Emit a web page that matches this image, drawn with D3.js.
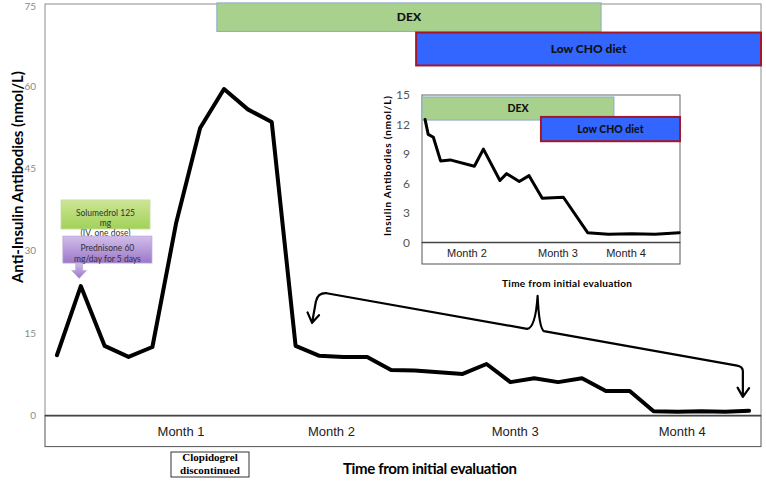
<!DOCTYPE html>
<html>
<head>
<meta charset="utf-8">
<script src="https://cdn.jsdelivr.net/npm/d3@7"></script>
<style>
  body { margin: 0; background: #fff; }
  svg { display: block; font-family: Lato, "Open Sans", sans-serif; }
</style>
</head>
<body>
<svg id="chart" width="766" height="481"></svg>
<script>
// main series, one value per visit
const visits = d3.range(30);
const antibodies = [11.0, 23.6, 12.7, 10.7, 12.5, 35.2, 52.4, 59.5, 55.8, 53.5,
                    12.7, 10.9, 10.7, 10.7, 8.3, 8.2, 7.9, 7.6, 9.4, 6.1,
                    6.8, 6.1, 6.8, 4.5, 4.5, 0.8, 0.7, 0.8, 0.7, 0.9];
const yTicks = [0, 15, 30, 45, 60, 75];
const months = ['Month 1', 'Month 2', 'Month 3', 'Month 4'];
const monthAt = [5.2, 11.5, 19.2, 26.2];

// inset (zoom on the low range)
const insetDays = [1.2, 2.4, 4.4, 7.2, 10.9, 20.3, 23.8, 30.2, 32.8, 37.7,
                   41.5, 46.6, 54.8, 64.2, 72.2, 81.3, 90.3, 99.7];
const insetValues = [12.5, 11.0, 10.7, 8.3, 8.4, 7.75, 9.5, 6.3, 7.0, 6.2,
                     6.8, 4.5, 4.6, 1.0, 0.85, 0.9, 0.85, 1.0];
const insetTicks = [0, 3, 6, 9, 12, 15];
const insetMonths = ['Month 2', 'Month 3', 'Month 4'];
const insetMonthAt = [17.4, 52.7, 79.1];

// treatment bars: [from, to, top value, bottom value]
const dexMain = [6.7, 22.8, 75.2, 70.0];
const choMain = [15.05, 29.5, 69.8, 63.8];
const dexInset = [0, 74.4, 14.8, 12.45];
const choInset = [46.1, 100, 12.77, 10.3];
const solumedrol = [0.17, 3.9, 39.3, 34.0];
const prednisone = [0.25, 3.98, 32.7, 27.8];

const svg = d3.select('#chart');
const defs = svg.append('defs');

function grad (id, c0, c1) {
    const g = defs.append('linearGradient').attr('id', id)
        .attr('x1', 0).attr('y1', 0).attr('x2', 0).attr('y2', 1);
    g.append('stop').attr('offset', 0).attr('stop-color', c0);
    g.append('stop').attr('offset', 1).attr('stop-color', c1);
}
grad('gGreen', '#cde596', '#a2d157');
grad('gPurple', '#d2bdea', '#9c78c9');

const x = d3.scaleLinear().domain([-0.5, 29.5]).range([45, 761]);
const y = d3.scaleLinear().domain([0, 75]).range([415.6, 4]);

// frame + category strip
svg.append('rect')
    .attr('x', x(-0.5)).attr('y', y(75))
    .attr('width', x(29.5) - x(-0.5)).attr('height', y(0) - y(75))
    .attr('fill', 'none').attr('stroke', '#8c8c8c');
svg.append('rect')
    .attr('x', x(-0.5)).attr('y', y(0))
    .attr('width', x(29.5) - x(-0.5)).attr('height', 31)
    .attr('fill', '#fff').attr('stroke', '#555');
svg.append('line')
    .attr('x1', x(-0.5)).attr('x2', x(29.5)).attr('y1', y(0)).attr('y2', y(0))
    .attr('stroke', '#444').attr('stroke-width', 1.6);

svg.append('g').selectAll('text').data(yTicks).join('text')
    .attr('x', 36).attr('y', d => Math.max(y(d), 6)).attr('dy', '0.35em')
    .attr('text-anchor', 'end').attr('font-size', 10).attr('fill', '#8a8a8a')
    .text(d => d);

svg.append('g').selectAll('text').data(months).join('text')
    .attr('x', (d, i) => x(monthAt[i])).attr('y', y(0) + 16).attr('dy', '0.35em')
    .attr('text-anchor', 'middle')
    .attr('font-family', '"Liberation Sans", Arial, sans-serif')
    .attr('font-size', 13).attr('fill', '#222')
    .text(d => d);

svg.append('text')
    .attr('transform', 'translate(18,177) rotate(-90)')
    .attr('text-anchor', 'middle').attr('dy', '0.35em')
    .attr('font-weight', 'bold').attr('font-size', 15)
    .attr('textLength', 212)
    .text('Anti-Insulin Antibodies (nmol/L)');

svg.append('text')
    .attr('x', 430).attr('y', 469).attr('dy', '0.35em')
    .attr('text-anchor', 'middle')
    .attr('font-weight', 'bold').attr('font-size', 15)
    .attr('textLength', 174)
    .text('Time from initial evaluation');

// clopidogrel note
svg.append('rect')
    .attr('x', 171).attr('y', 452).attr('width', 78).attr('height', 25)
    .attr('fill', '#fff').attr('stroke', '#333');
svg.append('g').selectAll('text').data(['Clopidogrel', 'discontinued']).join('text')
    .attr('x', 210).attr('y', (d, i) => 457.5 + i * 12.5).attr('dy', '0.35em')
    .attr('text-anchor', 'middle')
    .attr('font-family', '"Liberation Serif", "Times New Roman", serif')
    .attr('font-weight', 'bold').attr('font-size', 11)
    .text(d => d);

// treatment bars on the main chart
function bar (g, sx, sy, b, fill, stroke, sw, label, fs) {
    g.append('rect')
        .attr('x', sx(b[0])).attr('y', sy(b[2]))
        .attr('width', sx(b[1]) - sx(b[0])).attr('height', sy(b[3]) - sy(b[2]))
        .attr('fill', fill).attr('stroke', stroke).attr('stroke-width', sw);
    if (label) {
        g.append('text')
            .attr('x', (sx(b[0]) + sx(b[1])) / 2).attr('y', (sy(b[2]) + sy(b[3])) / 2)
            .attr('dy', '0.35em').attr('text-anchor', 'middle')
            .attr('font-weight', 900).attr('font-size', fs).attr('fill', '#111')
            .text(label);
    }
}
bar(svg, x, y, dexMain, '#a9d18e', '#8ea9c8', 1, 'DEX', 12);
bar(svg, x, y, choMain, '#3366ff', '#a3172a', 2, 'Low CHO diet', 12);

// main line
svg.append('path')
    .datum(visits)
    .attr('fill', 'none').attr('stroke', '#000').attr('stroke-width', 4)
    .attr('stroke-linejoin', 'round').attr('stroke-linecap', 'round')
    .attr('d', d3.line().x(i => x(i)).y(i => y(antibodies[i])));

// steroid notes
bar(svg, x, y, solumedrol, 'url(#gGreen)', '#c8dca8', 0.8, null);
svg.append('g').selectAll('text').data(['Solumedrol 125', 'mg', '(IV, one dose)']).join('text')
    .attr('x', (x(solumedrol[0]) + x(solumedrol[1])) / 2)
    .attr('y', (d, i) => 213.5 + i * 10).attr('dy', '0.35em')
    .attr('text-anchor', 'middle').attr('font-size', 8.5).attr('fill', '#333')
    .text(d => d);
bar(svg, x, y, prednisone, 'url(#gPurple)', '#b9a4d6', 0.8, null);
svg.append('g').selectAll('text').data(['Prednisone 60', 'mg/day for 5 days']).join('text')
    .attr('x', (x(prednisone[0]) + x(prednisone[1])) / 2)
    .attr('y', (d, i) => 248 + i * 11).attr('dy', '0.35em')
    .attr('text-anchor', 'middle').attr('font-size', 8.5).attr('fill', '#333')
    .text(d => d);
{
    const ax = x(0.93), top = y(prednisone[3]), tip = y(25.0);
    svg.append('path')
        .attr('d', `M${ax - 3.5},${top} L${ax + 3.5},${top} L${ax + 3.5},${tip - 8} L${ax + 7.5},${tip - 8} L${ax},${tip} L${ax - 7.5},${tip - 8} L${ax - 3.5},${tip - 8} Z`)
        .attr('fill', 'url(#gPurple)').attr('stroke', '#b9a4d6').attr('stroke-width', 0.6);
}

// bracket pointing at the inset range
{
    const p = d3.path();
    p.moveTo(x(10.69), y(16.9));
    p.lineTo(x(10.85), y(20.8));
    p.quadraticCurveTo(x(10.93), y(22.4), x(11.3), y(22.3));
    p.lineTo(x(19.7), y(15.8));
    p.quadraticCurveTo(x(20.05), y(16.0), x(20.14), y(21.8));
    p.quadraticCurveTo(x(20.2), y(16.0), x(20.4), y(15.4));
    p.lineTo(x(28.5), y(9.1));
    p.quadraticCurveTo(x(28.75), y(8.9), x(28.74), y(8.0));
    p.lineTo(x(28.74), y(3.4));
    // arrowheads
    p.moveTo(x(10.5), y(18.8)); p.lineTo(x(10.69), y(16.9)); p.lineTo(x(10.98), y(18.3));
    p.moveTo(x(28.52), y(5.1)); p.lineTo(x(28.74), y(3.4)); p.lineTo(x(29.0), y(5.0));
    svg.append('path').attr('d', p.toString())
        .attr('fill', 'none').attr('stroke', '#000').attr('stroke-width', 2.2)
        .attr('stroke-linejoin', 'round').attr('stroke-linecap', 'round');
}

// inset
const xi = d3.scaleLinear().domain([0, 100]).range([422, 680]);
const yi = d3.scaleLinear().domain([0, 15]).range([242.5, 95]);
const inset = svg.append('g');

inset.append('rect')
    .attr('x', xi(0)).attr('y', yi(15))
    .attr('width', xi(100) - xi(0)).attr('height', yi(0) - yi(15))
    .attr('fill', '#fff').attr('stroke', '#666');
inset.append('rect')
    .attr('x', xi(0)).attr('y', yi(0))
    .attr('width', xi(100) - xi(0)).attr('height', 21.5)
    .attr('fill', '#fff').attr('stroke', '#555');
inset.append('line')
    .attr('x1', xi(0)).attr('x2', xi(100)).attr('y1', yi(0)).attr('y2', yi(0))
    .attr('stroke', '#444').attr('stroke-width', 1.4);

inset.append('g').selectAll('text').data(insetTicks).join('text')
    .attr('x', 410).attr('y', d => yi(d)).attr('dy', '0.35em')
    .attr('text-anchor', 'end').attr('font-size', 12).attr('fill', '#555')
    .text(d => d);
inset.append('g').selectAll('text').data(insetMonths).join('text')
    .attr('x', (d, i) => xi(insetMonthAt[i])).attr('y', yi(0) + 11).attr('dy', '0.35em')
    .attr('text-anchor', 'middle')
    .attr('font-family', '"Liberation Sans", Arial, sans-serif')
    .attr('font-size', 11).attr('fill', '#222')
    .text(d => d);
inset.append('text')
    .attr('transform', 'translate(387,166) rotate(-90)')
    .attr('text-anchor', 'middle').attr('dy', '0.35em')
    .attr('font-weight', 'bold').attr('font-size', 10)
    .attr('textLength', 140)
    .text('Insulin Antibodies (nmol/L)');
inset.append('text')
    .attr('x', 567).attr('y', 283).attr('dy', '0.35em')
    .attr('text-anchor', 'middle')
    .attr('font-weight', 'bold').attr('font-size', 10)
    .attr('textLength', 130)
    .text('Time from initial evaluation');

bar(inset, xi, yi, dexInset, '#a9d18e', '#8ea9c8', 1, 'DEX', 10.5);
bar(inset, xi, yi, choInset, '#3366ff', '#a3172a', 2, 'Low CHO diet', 10.5);

inset.append('path')
    .datum(insetDays)
    .attr('fill', 'none').attr('stroke', '#000').attr('stroke-width', 3)
    .attr('stroke-linejoin', 'round').attr('stroke-linecap', 'round')
    .attr('d', d3.line().x(d => xi(d)).y((d, i) => yi(insetValues[i])));
</script>
</body>
</html>
